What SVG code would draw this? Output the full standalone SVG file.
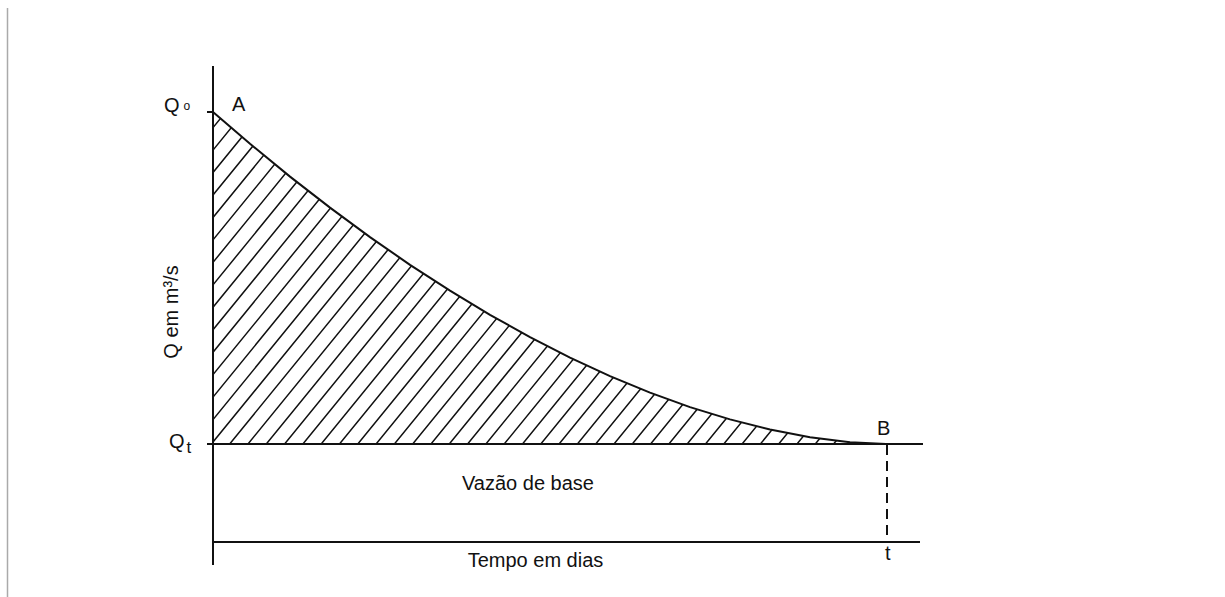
<svg xmlns="http://www.w3.org/2000/svg" width="1225" height="597" viewBox="0 0 1225 597">
<style>
.ax{stroke:#111;stroke-width:2;fill:none}
.lbl{font-family:"Liberation Sans",Arial,sans-serif;font-size:20px;fill:#111}
.h{stroke:#111;stroke-width:1.5;fill:none}
</style>
<defs>
<clipPath id="area">
<path d="M213 112 L250 143.8 L290 176.6 L330 207.6 L370 237.1 L410 264.8 L450 290.7 L490 314.8 L530 337.1 L570 357.6 L610 376.1 L650 392.6 L690 407.1 L730 419.4 L770 429.5 L810 437.2 L850 442.2 L886 444 L213 444 Z"/>
</clipPath>
</defs>
<rect width="1225" height="597" fill="#fff"/>
<line x1="7.5" y1="8" x2="7.5" y2="597" stroke="#aaa" stroke-width="1.5"/>
<g id="hatch" clip-path="url(#area)">
<path class="h" d="M-44.8 444 l280 -343.6 M-26.5 444 l280 -343.6 M-8.2 444 l280 -343.6 M10.1 444 l280 -343.6 M28.4 444 l280 -343.6 M46.7 444 l280 -343.6 M65 444 l280 -343.6 M83.3 444 l280 -343.6 M101.6 444 l280 -343.6 M119.9 444 l280 -343.6 M138.2 444 l280 -343.6 M156.5 444 l280 -343.6 M174.8 444 l280 -343.6 M193.1 444 l280 -343.6 M211.4 444 l280 -343.6 M229.7 444 l280 -343.6 M248 444 l280 -343.6 M266.3 444 l280 -343.6 M284.6 444 l280 -343.6 M302.9 444 l280 -343.6 M321.2 444 l280 -343.6 M339.5 444 l280 -343.6 M357.8 444 l280 -343.6 M376.1 444 l280 -343.6 M394.4 444 l280 -343.6 M412.7 444 l280 -343.6 M431 444 l280 -343.6 M449.3 444 l280 -343.6 M467.6 444 l280 -343.6 M485.9 444 l280 -343.6 M504.2 444 l280 -343.6 M522.5 444 l280 -343.6 M540.8 444 l280 -343.6 M559.1 444 l280 -343.6 M577.4 444 l280 -343.6 M595.7 444 l280 -343.6 M614 444 l280 -343.6 M632.3 444 l280 -343.6 M650.6 444 l280 -343.6 M668.9 444 l280 -343.6 M687.2 444 l280 -343.6 M705.5 444 l280 -343.6 M723.8 444 l280 -343.6 M742.1 444 l280 -343.6 M760.4 444 l280 -343.6 M778.7 444 l280 -343.6 M797 444 l280 -343.6 M815.3 444 l280 -343.6 M833.6 444 l280 -343.6 M851.9 444 l280 -343.6 M870.2 444 l280 -343.6"/>
</g>
<g id="curve">
<path class="ax" stroke-width="1.7" d="M213 112 L250 143.8 L290 176.6 L330 207.6 L370 237.1 L410 264.8 L450 290.7 L490 314.8 L530 337.1 L570 357.6 L610 376.1 L650 392.6 L690 407.1 L730 419.4 L770 429.5 L810 437.2 L850 442.2 L886 444"/>
</g>
<g id="axes">
<line class="ax" x1="213" y1="66" x2="213" y2="565"/>
<line class="ax" x1="207" y1="112" x2="213" y2="112"/>
<line class="ax" x1="207" y1="444" x2="923" y2="444"/>
<line class="ax" x1="213" y1="542" x2="920" y2="542" stroke="#333" stroke-width="2.4"/>
<line class="ax" x1="887" y1="445" x2="887" y2="536" stroke-dasharray="10 6"/>
</g>
<g id="labels">
<text class="lbl" x="164" y="112">Q<tspan font-size="12" dx="4" dy="-2">o</tspan></text>
<text class="lbl" x="232" y="111">A</text>
<text class="lbl" x="169" y="448">Q<tspan font-size="17" dx="2" dy="5">t</tspan></text>
<text class="lbl" x="877" y="435">B</text>
<text class="lbl" x="885" y="560">t</text>
<text class="lbl" x="528" y="490" text-anchor="middle" font-size="20.5">Vazão de base</text>
<text class="lbl" x="535.5" y="567" text-anchor="middle" font-size="20.5">Tempo em dias</text>
<text class="lbl" transform="translate(178 312) rotate(-90)" text-anchor="middle">Q em m³/s</text>
</g>
</svg>
